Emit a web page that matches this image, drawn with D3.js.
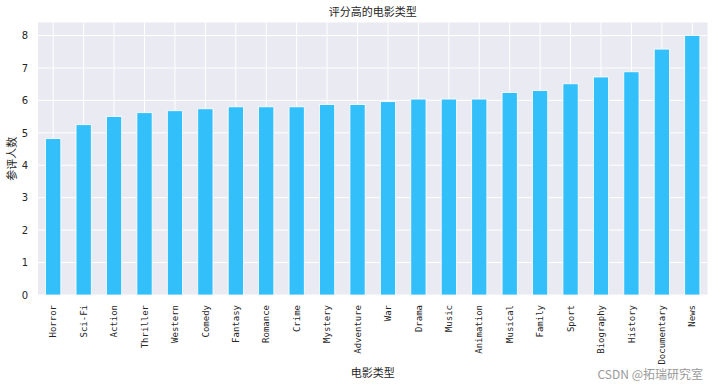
<!DOCTYPE html>
<html>
<head>
<meta charset="utf-8">
<script src="https://cdn.jsdelivr.net/npm/d3@7"></script>
<style>
  body { margin: 0; background: #fff; }
  svg { display: block; }
</style>
</head>
<body>
<svg class="chart" width="714" height="387"></svg>
<script>
// genres, sorted by rating
var genres = ["Horror", "Sci-Fi", "Action", "Thriller", "Western", "Comedy", "Fantasy",
  "Romance", "Crime", "Mystery", "Adventure", "War", "Drama", "Music", "Animation",
  "Musical", "Family", "Sport", "Biography", "History", "Documentary", "News"];
// mean score per genre
var scores = [4.82, 5.25, 5.50, 5.62, 5.68, 5.74, 5.80, 5.80, 5.80, 5.87, 5.87,
  5.96, 6.04, 6.04, 6.04, 6.24, 6.30, 6.51, 6.72, 6.88, 7.58, 8.00];
var yTicks = [0, 1, 2, 3, 4, 5, 6, 7, 8];

var svg = d3.select("svg.chart");
var pLeft = 38, pRight = 707.5, pTop = 22.5, pBottom = 295;

var x = d3.scaleBand().domain(genres).range([pLeft, pRight]).paddingInner(0.5).paddingOuter(0.25);
var y = d3.scaleLinear().domain([0, 8.4]).range([pBottom, pTop]);

// background
svg.append("rect")
  .attr("x", pLeft).attr("y", pTop)
  .attr("width", pRight - pLeft).attr("height", pBottom - pTop)
  .style("fill", "#eaeaf2");

// grid lines
svg.append("g").selectAll("line.h")
  .data(yTicks)
  .enter().append("line")
  .attr("x1", pLeft).attr("x2", pRight)
  .attr("y1", function(d) { return y(d); })
  .attr("y2", function(d) { return y(d); })
  .style("stroke", "#fff").style("stroke-width", 1);

svg.append("g").selectAll("line.v")
  .data(genres)
  .enter().append("line")
  .attr("x1", function(d) { return x(d) + x.bandwidth() / 2; })
  .attr("x2", function(d) { return x(d) + x.bandwidth() / 2; })
  .attr("y1", pTop).attr("y2", pBottom)
  .style("stroke", "#fff").style("stroke-width", 1);

// bars
svg.append("g").selectAll("rect.bar")
  .data(scores)
  .enter().append("rect")
  .attr("class", "bar")
  .attr("x", function(d, i) { return x(genres[i]); })
  .attr("y", function(d) { return y(d); })
  .attr("width", x.bandwidth())
  .attr("height", function(d) { return y(0) - y(d); })
  .style("fill", "#33bff9")
  .style("stroke", "#fff")
  .style("stroke-width", 0.8);

// y axis labels
var yAxis = d3.axisLeft(y).tickValues(yTicks).tickSize(0).tickPadding(10);
svg.append("g")
  .attr("transform", "translate(" + pLeft + ",0)")
  .call(yAxis)
  .call(function(g) { g.select(".domain").remove(); })
  .selectAll("text")
  .style("font-family", "'DejaVu Sans', sans-serif")
  .style("font-size", "10px")
  .style("fill", "#262626");

// x axis labels
var xAxis = d3.axisBottom(x).tickSize(0).tickPadding(0);
svg.append("g")
  .attr("transform", "translate(0," + pBottom + ")")
  .call(xAxis)
  .call(function(g) { g.select(".domain").remove(); })
  .selectAll("text")
  .attr("transform", "translate(0,10) rotate(-90)")
  .attr("dy", "0.35em")
  .attr("x", 0).attr("y", 0)
  .style("text-anchor", "end")
  .style("font-family", "'DejaVu Sans Mono', monospace")
  .style("font-size", "9px")
  .style("fill", "#262626");

// titles
svg.append("text")
  .attr("x", (pLeft + pRight) / 2).attr("y", 16)
  .attr("text-anchor", "middle")
  .style("font-family", "'Noto Sans CJK SC', sans-serif")
  .style("font-size", "11px").style("fill", "#262626")
  .text("评分高的电影类型");

svg.append("text")
  .attr("x", (pLeft + pRight) / 2).attr("y", 377)
  .attr("text-anchor", "middle")
  .style("font-family", "'Noto Sans CJK SC', sans-serif")
  .style("font-size", "11px").style("fill", "#262626")
  .text("电影类型");

svg.append("text")
  .attr("transform", "translate(16," + (pTop + pBottom) / 2 + ") rotate(-90)")
  .attr("text-anchor", "middle")
  .style("font-family", "'Noto Sans CJK SC', sans-serif")
  .style("font-size", "11px").style("fill", "#262626")
  .text("参评人数");

// watermark
svg.append("text")
  .attr("x", 703).attr("y", 379)
  .attr("text-anchor", "end")
  .style("font-family", "'Noto Sans CJK SC', sans-serif")
  .style("font-size", "12px").style("fill", "#999")
  .text("CSDN @拓瑞研究室");
</script>
</body>
</html>
